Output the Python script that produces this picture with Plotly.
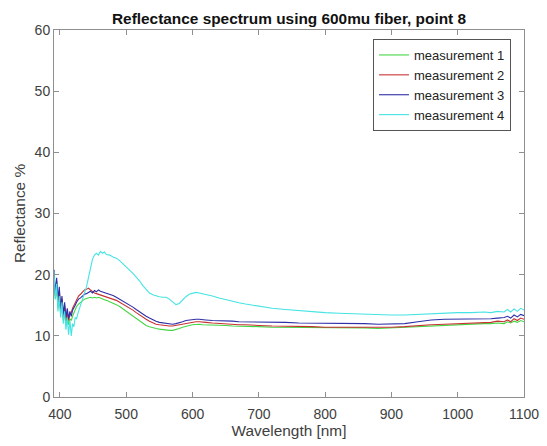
import plotly.graph_objects as go

wavelength = [391, 393, 395, 397, 399, 401, 403, 405, 407, 409, 411, 413, 415, 417, 419, 421, 423, 425,
              428, 431, 434, 437, 440, 443, 446, 449, 452, 455, 458, 461, 464, 467, 470,
              475, 480, 485, 490, 495, 500, 505, 510, 515, 520, 525, 530, 535, 540, 545, 550, 555, 560,
              565, 570, 575, 580, 585, 590, 595, 600,
              605, 610, 615, 620,
              630, 640, 650, 660, 670, 680, 690, 700,
              720, 740, 760, 780, 800, 820, 840, 860, 880, 900, 920, 940, 960, 980, 1000, 1020, 1040,
              1050, 1060, 1070, 1075, 1080, 1085, 1090, 1095, 1100]

measurement_1 = [19.5, 16, 18, 14.5, 17, 13.5, 15.5, 12.5, 14.5, 12, 13.2, 11.8, 12.8, 12.5, 13.2, 13.8, 14.3, 14.8,
                 15.2, 15.5, 15.8, 16.0, 16.1, 16.2, 16.3, 16.2, 16.3, 16.2, 16.3, 16.2, 16.0, 15.9, 15.8,
                 15.6, 15.4, 15.1, 14.8, 14.4, 14.0, 13.6, 13.2, 12.8, 12.4, 12.0, 11.7, 11.5, 11.3, 11.2, 11.1,
                 11.0, 11.0, 10.9, 10.9, 11.0, 11.2, 11.4, 11.6, 11.7, 11.8,
                 11.9, 11.9, 11.8, 11.8,
                 11.8, 11.7, 11.7, 11.6, 11.6, 11.5, 11.5, 11.5,
                 11.4, 11.4, 11.4, 11.3, 11.3, 11.3, 11.3, 11.3, 11.2, 11.3, 11.4, 11.6, 11.7, 11.8, 11.9, 11.9, 12.0,
                 12.0, 12.1, 12.0, 12.3, 12.1, 12.4, 12.2, 12.5, 12.3]

measurement_2 = [20.2, 16.5, 19, 15, 17.5, 14, 16, 13, 15, 12.5, 14, 12.5, 13.5, 13.8, 14.5, 15, 15.5, 16,
                 16.5, 16.8, 17.2, 17.5, 17.6, 17.8, 17.5, 17.2, 17.0, 16.9, 16.8, 16.7, 16.6, 16.5, 16.4,
                 16.2, 16.0, 15.8, 15.5, 15.2, 14.9, 14.6, 14.2, 13.8, 13.4, 13.0, 12.7, 12.4, 12.1, 11.9, 11.8,
                 11.7, 11.6, 11.6, 11.6, 11.7, 11.8, 12.0, 12.1, 12.2, 12.3,
                 12.3, 12.3, 12.2, 12.2,
                 12.1, 12.0, 12.0, 11.9, 11.8, 11.8, 11.7, 11.7,
                 11.6, 11.6, 11.5, 11.5, 11.4, 11.4, 11.4, 11.4, 11.3, 11.4, 11.5, 11.7, 11.8, 11.9, 12.0, 12.1, 12.2,
                 12.2, 12.4, 12.3, 12.6, 12.3, 12.8, 12.5, 12.9, 12.7]

measurement_3 = [20.8, 17, 19.5, 16, 18, 14.5, 16.5, 13.5, 15.5, 13, 14.5, 12.8, 14, 13.2, 14.2, 14.5, 15, 15.5,
                 16, 16.2, 16.5, 16.8, 16.9, 17.1, 17.3, 17.0, 17.4, 17.2, 17.5, 17.3, 17.2, 17.0, 16.9,
                 16.8, 16.6, 16.3, 16.0, 15.7, 15.4, 15.1, 14.7, 14.3, 13.9, 13.5, 13.2, 12.9, 12.6, 12.4, 12.2,
                 12.1, 12.0, 11.9, 11.9, 12.0, 12.1, 12.3, 12.5, 12.6, 12.7,
                 12.7, 12.7, 12.6, 12.6,
                 12.5, 12.5, 12.4, 12.4, 12.3, 12.3, 12.3, 12.2,
                 12.2, 12.2, 12.1, 12.1, 12.0, 12.0, 12.0, 12.0, 11.9, 11.9, 12.0, 12.3, 12.6, 12.7, 12.7, 12.7, 12.8,
                 12.8, 12.9, 13.0, 13.2, 12.9, 13.4, 13.1, 13.5, 13.3]

measurement_4 = [20.5, 16, 18.5, 14, 16.5, 13, 15.5, 12, 14, 11, 13, 10.2, 12.5, 10, 12, 11.5, 13, 12.8,
                 14, 15, 16, 16.8, 18, 19.5, 21, 22.5, 23.2, 23.5, 23.2, 23.8, 23.5, 23.7, 23.3,
                 23.2, 22.9, 22.7, 22.3, 21.8, 21.3, 20.8, 20.2, 19.6, 19.0, 18.2, 17.6, 17.0, 16.7, 16.5, 16.4,
                 16.3, 16.3, 16.0, 15.5, 15.1, 15.3, 15.9, 16.4, 16.8, 17.0,
                 17.1, 17.0, 16.9, 16.8,
                 16.5, 16.2, 15.9, 15.6, 15.4, 15.2, 15.0, 14.8,
                 14.5, 14.3, 14.1, 13.9, 13.8, 13.7, 13.6, 13.5, 13.4, 13.4, 13.4, 13.5, 13.7, 13.8, 13.8, 13.8, 13.9,
                 13.8, 14.0, 13.9, 14.3, 13.9, 14.4, 14.0, 14.5, 14.2]

series_names = ["measurement 1", "measurement 2", "measurement 3", "measurement 4"]
series_colors = ["#45d645", "#c83232", "#2f2fa8", "#45e3e3"]
series_values = [measurement_1, measurement_2, measurement_3, measurement_4]

x_ticks = [400, 500, 600, 700, 800, 900, 1000, 1100]
y_ticks = [0, 10, 20, 30, 40, 50, 60]

fig = go.Figure()
for name, color, vals in zip(series_names, series_colors, series_values):
    fig.add_trace(go.Scatter(x=wavelength, y=vals, mode="lines", name=name,
                             line=dict(color=color, width=1.1)))

axis_color = "#8f8f8f"
text_color = "#404040"
font_family = "Liberation Sans, Arial, sans-serif"

fig.update_layout(
    width=547, height=446,
    margin=dict(l=54, r=23, t=30, b=49),
    paper_bgcolor="white", plot_bgcolor="white",
    font=dict(family=font_family, size=14, color=text_color),
    title=dict(text="<b>Reflectance spectrum using 600mu fiber, point 8</b>",
               x=0.5, xref="paper", xanchor="center",
               y=1 - 19 / 446, yanchor="middle",
               font=dict(size=15.4, color="#111111", family=font_family)),
    showlegend=True,
    legend=dict(x=0.9723, y=0.9755, xanchor="right", yanchor="top",
                bordercolor="#555555", borderwidth=1, bgcolor="white",
                font=dict(size=13, color="#222222", family=font_family),
                tracegroupgap=0),
)

fig.update_xaxes(range=[391, 1100], tickmode="array", tickvals=x_ticks,
                 ticks="inside", ticklen=5, tickcolor=axis_color, tickwidth=1,
                 showline=True, linecolor=axis_color, linewidth=1, mirror="ticks",
                 showgrid=False, zeroline=False, ticklabelstandoff=4, automargin=False,
                 tickfont=dict(size=14, color=text_color),
                 title=dict(text="Wavelength [nm]", font=dict(size=15.4, color=text_color), standoff=4))
fig.update_yaxes(range=[0, 60], tickmode="array", tickvals=y_ticks,
                 ticks="inside", ticklen=5, tickcolor=axis_color, tickwidth=1,
                 showline=True, linecolor=axis_color, linewidth=1, mirror="ticks",
                 showgrid=False, zeroline=False, automargin=False,
                 tickfont=dict(size=14, color=text_color),
                 title=dict(text="Reflectance %", font=dict(size=15.4, color=text_color), standoff=5))

fig.write_html("out.html")
